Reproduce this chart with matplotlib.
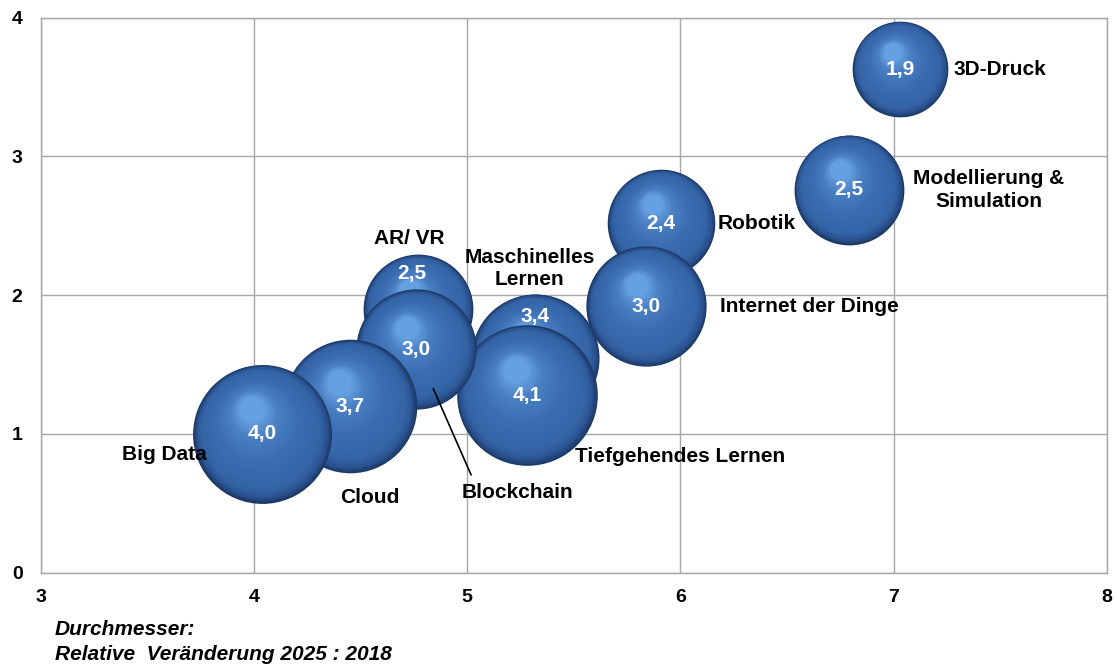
import numpy as np
import matplotlib
matplotlib.use("Agg")
import matplotlib.pyplot as plt
from matplotlib.colors import LinearSegmentedColormap
from matplotlib.transforms import ScaledTranslation

plt.rcParams['font.family'] = ['Liberation Sans', 'DejaVu Sans']

# data (drawn back to front)
names = ['3D-Druck', 'Modellierung &\nSimulation', 'Robotik', 'Internet der Dinge',
         'Maschinelles\nLernen', 'Tiefgehendes Lernen', 'AR/ VR', 'Blockchain',
         'Cloud', 'Big Data']
x_vals = [7.03, 6.79, 5.91, 5.84, 5.32, 5.28, 4.77, 4.76, 4.45, 4.04]
y_vals = [3.63, 2.76, 2.52, 1.92, 1.55, 1.28, 1.90, 1.61, 1.20, 1.00]
change = [1.9, 2.5, 2.4, 3.0, 3.4, 4.1, 2.5, 3.0, 3.7, 4.0]

x_ticks = [3, 4, 5, 6, 7, 8]
y_ticks = [0, 1, 2, 3, 4]

# label placement (offset in pixels from bubble centre)
name_offsets = [(100, 0), (140, 0), (95, 0), (163, 0), (-6, 89),
                (153, -61), (-9, 71), (101, -143), (20, -91), (-98, -21)]
value_offsets = [(0, 0), (0, 0), (0, 0), (0, 0), (0, 41),
                 (0, 0), (-6, 36), (0, 0), (0, 0), (0, 0)]

fig = plt.figure(figsize=(11.17, 6.68), dpi=100)
ax = fig.add_axes([0.0364, 0.1427, 0.9546, 0.8308])
ax.set_xlim(3, 8)
ax.set_ylim(0, 4)

grid_col = '#a6a6a6'
ax.set_xticks(x_ticks)
ax.set_yticks(y_ticks)
ax.grid(True, color=grid_col, linewidth=1.0, zorder=0)
ax.set_axisbelow(True)
for sp in ax.spines.values():
    sp.set_color(grid_col)
    sp.set_linewidth(1.0)
ax.tick_params(length=0, labelsize=14, pad=12)
ax.tick_params(axis='y', pad=13)
for lbl in ax.get_xticklabels() + ax.get_yticklabels():
    lbl.set_fontweight('bold')

# sphere shading: nested circles shifted toward a highlight
shade = LinearSegmentedColormap.from_list(
    'sphere', [(0.0, '#1d3a66'), (0.06, '#2a5290'), (0.16, '#3464a6'),
               (0.5, '#3b6db1'), (0.8, '#4a80c3'), (1.0, '#65a0e0')])
n_layers = 45
for i in range(len(names)):
    d = np.sqrt(change[i] * 2500)  # diameter in points, area ~ value
    z = 2 + i
    for k in range(n_layers):
        t = k / (n_layers - 1)
        f = 1 - 0.82 * t
        dx = -0.16 * d / 2 * t
        dy = 0.36 * d / 2 * t
        tr = ax.transData + ScaledTranslation(dx / 72, dy / 72, fig.dpi_scale_trans)
        ax.scatter(x_vals[i], y_vals[i], s=(d * f) ** 2, color=shade(t),
                   transform=tr, linewidths=0, zorder=z, clip_on=False)
    vx, vy = value_offsets[i]
    ax.annotate(f'{change[i]:.1f}'.replace('.', ','), (x_vals[i], y_vals[i]),
                xytext=(vx, vy), textcoords='offset pixels', ha='center', va='center',
                color='white', fontsize=15, fontweight='bold', zorder=20)

for i in range(len(names)):
    ox, oy = name_offsets[i]
    arrow = None
    if names[i] == 'Blockchain':
        arrow = dict(arrowstyle='-', color='black', lw=1.2, shrinkA=4, shrinkB=31,
                     relpos=(0.12, 1.0))
    ax.annotate(names[i], (x_vals[i], y_vals[i]), xytext=(ox, oy),
                textcoords='offset pixels', ha='center', va='center',
                fontsize=15, fontweight='bold', color='black', zorder=25,
                linespacing=1.25, arrowprops=arrow)

fig.text(0.049, 0.057, 'Durchmesser:', fontsize=15, fontweight='bold',
         fontstyle='italic', va='center', ha='left')
fig.text(0.049, 0.0195, 'Relative  Veränderung 2025 : 2018', fontsize=15,
         fontweight='bold', fontstyle='italic', va='center', ha='left')

fig.savefig('out.png', dpi=100)
